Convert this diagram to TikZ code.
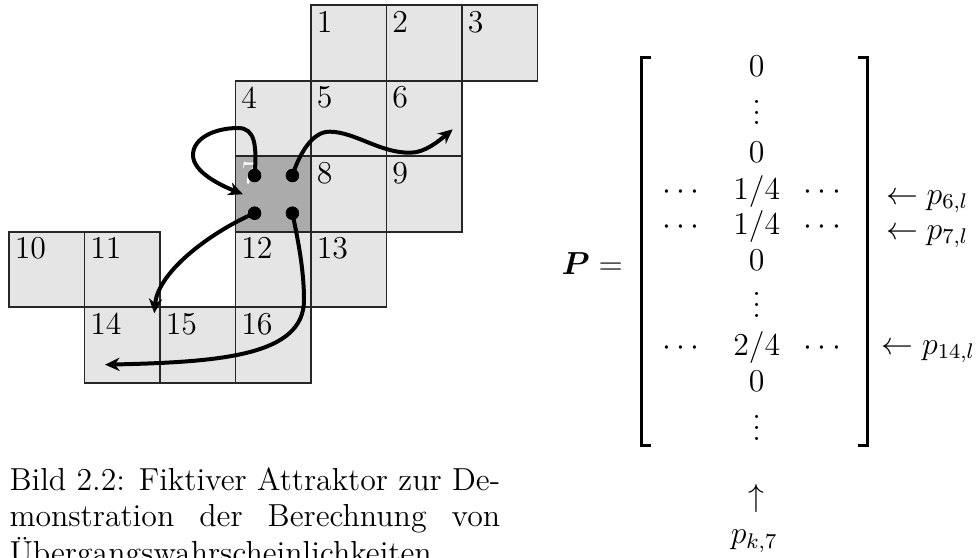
\documentclass[tikz,border=0pt]{standalone}
\usepackage{amsmath,bm}
\usetikzlibrary{arrows.meta}
\tikzset{
  cellbox/.style={draw=black!85, line width=0.7pt, fill=black!10, minimum size=1cm, inner sep=0pt, outer sep=0pt, anchor=north west},
  darkcell/.style={cellbox, fill=black!33},
  celllabel/.style={anchor=north west, inner sep=2pt, font=\large},
  dotnode/.style={circle, fill=black, inner sep=0pt, minimum size=5pt},
  flow/.style={line width=1.5pt, -{Stealth[length=5.5pt,width=5pt]}},
  entry/.style={anchor=base, inner sep=0pt, font=\large},
  lefttext/.style={anchor=base west, inner sep=0pt, font=\large},
  bracket/.style={line width=1pt},
}
\newcommand\myvdots{\vbox{\baselineskip4pt\lineskiplimit0pt\hbox{.}\hbox{.}\hbox{.}}}
\newlength\capw
\begin{document}
\settowidth{\capw}{\large Bild 2.2: Fiktiver Attraktor zur De-}
\begin{tikzpicture}[x=0.013245cm, y=-0.013245cm]
\useasboundingbox (0,0) rectangle (976,557);
% grid cells
\foreach \c/\r/\n in {4/0/1,5/0/2,6/0/3,3/1/4,4/1/5,5/1/6,4/2/8,5/2/9,0/3/10,1/3/11,3/3/12,4/3/13,1/4/14,2/4/15,3/4/16} {
  \node[cellbox] (c\n) at ({9+75.5*\c},{5.3+75.5*\r}) {};
  \node[celllabel] (l\n) at (c\n.north west) {\n};
}
\node[darkcell] (c7) at ({9+75.5*3},{5.3+75.5*2}) {};
\node[celllabel, text=white] (l7) at (c7.north west) {7};
% dots
\node[dotnode] (dTL) at (254.6,175.5) {};
\node[dotnode] (dTR) at (292.4,175.5) {};
\node[dotnode] (dBL) at (254.6,213.2) {};
\node[dotnode] (dBR) at (292.4,213.2) {};
% arrow end points
\coordinate (t1) at (243,194.3);
\coordinate (t2) at (452.7,129.3);
\coordinate (t3) at (154.3,313.3);
\coordinate (t4) at (105,364.7);
% arrows
\draw[flow] (dTL.center) .. controls (257,145) and (255,128) .. (238,128)
  .. controls (215,128) and (193,138) .. (193,155)
  .. controls (193,172) and (220,185) .. (t1);
\draw[flow] (dTR.center) .. controls (299,155) and (312,131) .. (330,131.7)
  .. controls (355,132) and (380,153) .. (410,152.7)
  .. controls (425,153) and (440,140) .. (t2);
\draw[flow] (dBL.center) .. controls (215,230) and (158,270) .. (t3);
\draw[flow] (dBR.center) .. controls (298,240) and (304,270) .. (304,300)
  .. controls (304,356) and (220,362) .. (t4);
% redraw dots on top
\foreach \d in {dTL,dTR,dBL,dBR} { \fill (\d) circle (2.5pt); }
% matrix
\node[lefttext] (P) at (561,274) {$\bm{P} =$};
\draw[bracket] (650.7,57.3) -- (641.4,57.3) -- (641.4,445.5) -- (650.7,445.5);
\draw[bracket] (858.3,57.3) -- (867.3,57.3) -- (867.3,445.5) -- (858.3,445.5);
\node[entry] (m1) at (756.7,77) {$0$};
\node[entry] (m2) at (756.7,125) {$\myvdots$};
\node[entry] (m3) at (756.7,162.5) {$0$};
\node[entry] (m4) at (756.7,199) {$1/4$};
\node[entry] (m4l) at (683.3,199) {$\cdots$};
\node[entry] (m4r) at (825,199) {$\cdots$};
\node[entry] (m5) at (756.7,234.5) {$1/4$};
\node[entry] (m5l) at (683.3,234.5) {$\cdots$};
\node[entry] (m5r) at (825,234.5) {$\cdots$};
\node[entry] (m6) at (756.7,270) {$0$};
\node[entry] (m7) at (756.7,317) {$\myvdots$};
\node[entry] (m8) at (756.7,355.5) {$2/4$};
\node[entry] (m8l) at (683.3,355.5) {$\cdots$};
\node[entry] (m8r) at (825,355.5) {$\cdots$};
\node[entry] (m9) at (756.7,391.5) {$0$};
\node[entry] (m10) at (756.7,440) {$\myvdots$};
% row / column markers
\node[lefttext] (r6) at (885.5,204) {$\leftarrow p_{6,l}$};
\node[lefttext] (r7) at (885.5,239) {$\leftarrow p_{7,l}$};
\node[lefttext] (r14) at (881,354) {$\leftarrow p_{14,l}$};
\node[inner sep=0pt, font=\large] (up) at (756.5,498.3) {$\uparrow$};
\node[entry] (pk7) at (754.2,543.3) {$p_{k,7}$};
% caption
\node[lefttext] (cap1) at (9,490) {\makebox[\capw][s]{Bild 2.2: Fiktiver Attraktor zur De-}};
\node[lefttext] (cap2) at (9,526.5) {\makebox[\capw][s]{monstration der Berechnung von}};
\node[lefttext] (cap3) at (9,563) {Übergangswahrscheinlichkeiten.};
\end{tikzpicture}
\end{document}
